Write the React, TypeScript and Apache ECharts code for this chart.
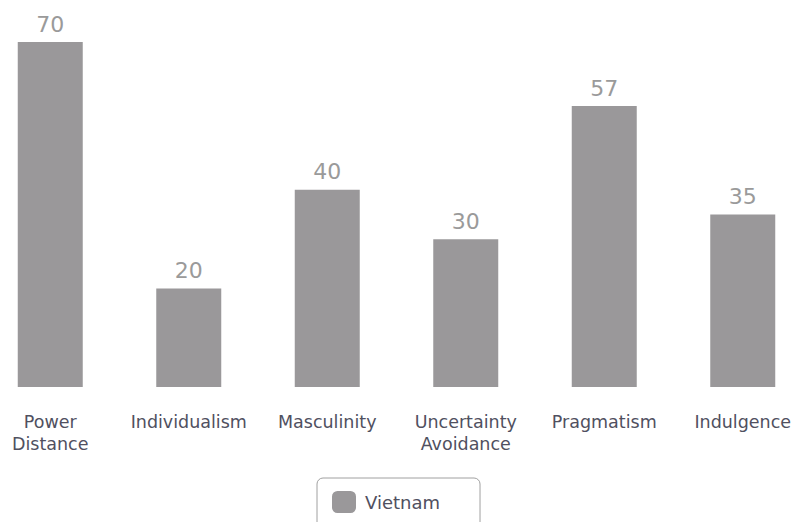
import React, { useEffect, useRef } from "react";
import * as echarts from "echarts";

const categories = ["Power\nDistance", "Individualism", "Masculinity", "Uncertainty\nAvoidance", "Pragmatism", "Indulgence"];
const vietnamScores = [70, 20, 40, 30, 57, 35];
const seriesName = "Vietnam";

export default function App() {
  const ref = useRef<HTMLDivElement>(null);
  useEffect(() => {
    if (!ref.current) return;
    const chart = echarts.init(ref.current, undefined, { renderer: "svg" });
    chart.setOption({
      animation: false,
      textStyle: { fontFamily: "DejaVu Sans" },
      grid: { left: 0, right: 0, top: 42, bottom: 135, containLabel: false },
      legend: {
        data: [seriesName],
        left: 336,
        top: 478,
        padding: [13, 40, 20, 15],
        borderColor: "#a0a0a0",
        borderWidth: 1,
        borderRadius: 6,
        itemWidth: 24,
        itemHeight: 22,
        itemStyle: { borderRadius: 2 },
        textStyle: { fontSize: 18, color: "#505060", padding: [0, 0, 0, 4] },
        selectedMode: false,
      },
      xAxis: {
        type: "category",
        data: categories,
        axisLine: { show: false },
        axisTick: { show: false },
        axisLabel: { interval: 0, fontSize: 17.5, lineHeight: 22, color: "#505060", margin: 24 },
      },
      yAxis: { type: "value", min: 0, max: 70, show: false, splitLine: { show: false } },
      series: [
        {
          name: seriesName,
          type: "bar",
          data: vietnamScores,
          barWidth: 65,
          itemStyle: { color: "#9a989a" },
          label: { show: true, position: "top", fontSize: 22, color: "#9a9a9a", distance: 7 },
        },
      ],
    });
    return () => chart.dispose();
  }, []);
  return (
    <div style={{ position: "absolute", left: 0, top: 0, width: 796, height: 522, overflow: "hidden" }}>
      <div ref={ref} style={{ position: "absolute", left: -19, top: 0, width: 831, height: 522 }} />
    </div>
  );
}
